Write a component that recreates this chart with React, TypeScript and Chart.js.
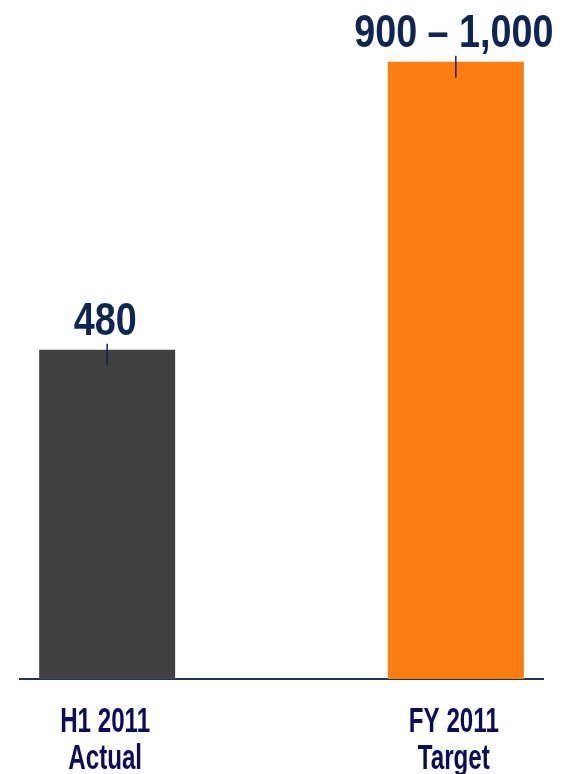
import React, { useEffect, useRef } from 'react';
import { Chart, registerables } from 'chart.js';

Chart.register(...registerables);

// ---- Data ----
const categories: string[][] = [
  ['H1 2011', 'Actual'],
  ['FY 2011', 'Target'],
];
const values: number[] = [480, 900];
const valueLabels: string[] = ['480', '900 – 1,000'];
const barColors: string[] = ['#414141', '#FB7D12'];

const FONT = "'Liberation Sans', Arial, sans-serif";
const NAVY = '#0F2552';
const LABEL_COLOR = '#0C0C5C';

function narrowText(ctx: CanvasRenderingContext2D, text: string, x: number, y: number, sx: number) {
  ctx.save();
  ctx.translate(x, y);
  ctx.scale(sx, 1);
  ctx.fillText(text, 0, 0);
  ctx.restore();
}

const labelPlugin = {
  id: 'labels',
  afterDatasetsDraw(chart: any) {
    const ctx: CanvasRenderingContext2D = chart.ctx;
    const meta = chart.getDatasetMeta(0);
    const xScale = chart.scales.x;
    ctx.save();
    meta.data.forEach((bar: any, i: number) => {
      const { x, y } = bar.getProps(['x', 'y'], true);
      // small marker line at the bar top
      ctx.strokeStyle = NAVY;
      ctx.lineWidth = 1.5;
      ctx.beginPath();
      ctx.moveTo(x, y - 6);
      ctx.lineTo(x, y + 16);
      ctx.stroke();
      // value label
      ctx.fillStyle = NAVY;
      ctx.font = `bold 46px ${FONT}`;
      ctx.textAlign = 'center';
      ctx.textBaseline = 'alphabetic';
      narrowText(ctx, valueLabels[i], x - 2, y - 15, 0.82);
    });
    // category labels under the axis
    ctx.fillStyle = LABEL_COLOR;
    ctx.font = `bold 35px ${FONT}`;
    ctx.textAlign = 'center';
    ctx.textBaseline = 'alphabetic';
    categories.forEach((lines, i) => {
      const px = xScale.getPixelForValue(i) - 2;
      lines.forEach((line, j) => {
        narrowText(ctx, line, px, xScale.bottom + 53 + j * 37, 0.69);
      });
    });
    ctx.restore();
  },
};

export default function App() {
  const ref = useRef<HTMLCanvasElement>(null);
  useEffect(() => {
    document.body.style.margin = '0';
    const chart = new Chart(ref.current!, {
      type: 'bar',
      data: {
        datasets: [
          {
            data: values.map((v, i) => ({ x: i, y: v })) as any,
            backgroundColor: barColors,
            borderWidth: 0,
            categoryPercentage: 0.78,
            barPercentage: 0.5,
          },
        ],
      },
      options: {
        animation: false,
        responsive: false,
        layout: { padding: { left: 20, right: 30, top: 0, bottom: 95 } },
        plugins: { legend: { display: false }, tooltip: { enabled: false } },
        scales: {
          x: {
            type: 'linear',
            min: -0.25,
            max: 1.25,
            offset: false,
            grid: { display: false, drawTicks: false },
            border: { display: true, color: '#1F3552', width: 2 },
            afterBuildTicks: (scale: any) => {
              scale.ticks = categories.map((_, i) => ({ value: i }));
            },
            ticks: { display: false },
          },
          y: { display: false, min: 0, max: 990 },
        },
      } as any,
      plugins: [labelPlugin],
    });
    return () => chart.destroy();
  }, []);
  return (
    <div style={{ width: 573, height: 774 }}>
      <canvas ref={ref} width={573} height={774} style={{ display: 'block' }} />
    </div>
  );
}
